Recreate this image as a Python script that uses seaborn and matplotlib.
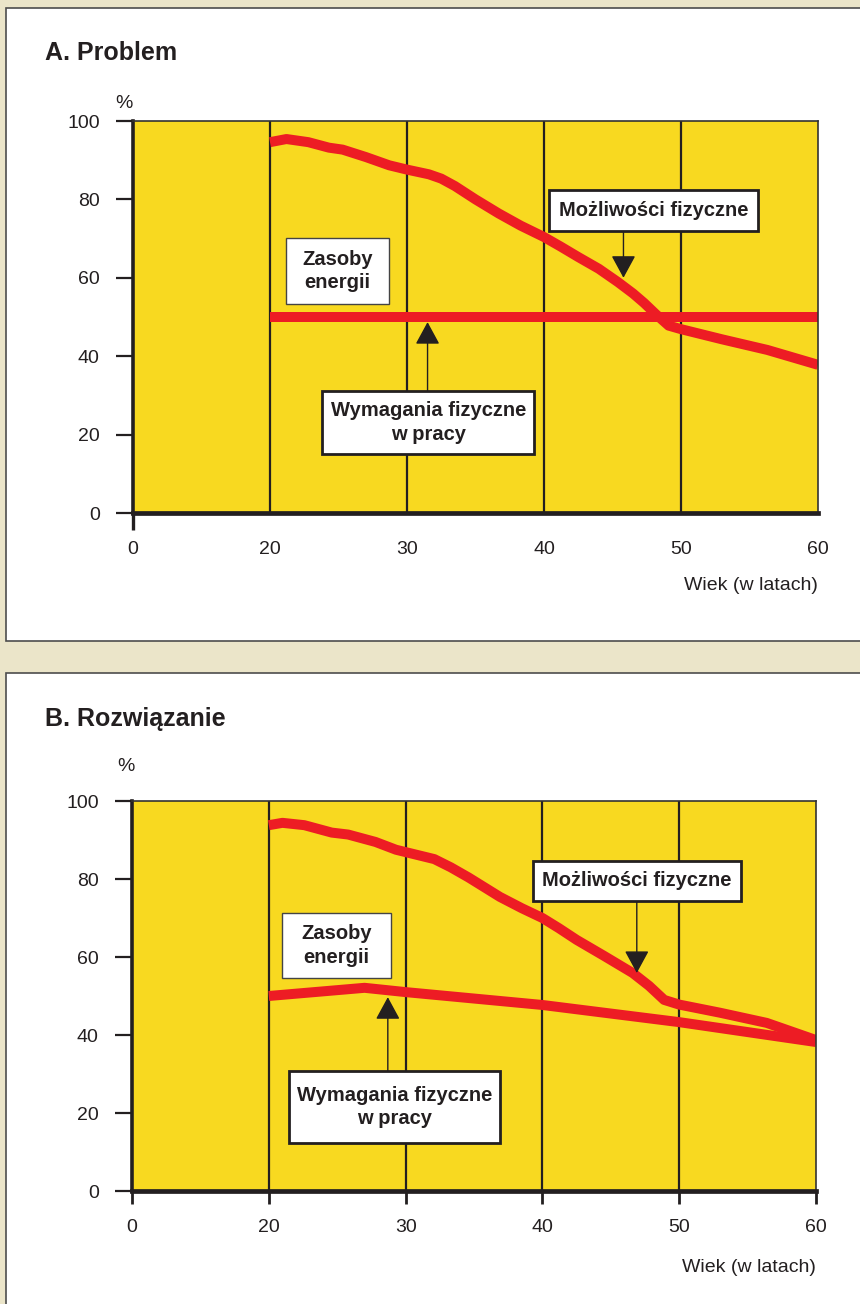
import numpy as np
import pandas as pd
import matplotlib
matplotlib.use("Agg")
import matplotlib.pyplot as plt
import seaborn as sns
from matplotlib.patches import Rectangle
from matplotlib import font_manager

# ---------------- data ----------------
age_ticks = [0, 20, 30, 40, 50, 60]
y_ticks = [0, 20, 40, 60, 80, 100]

# Panel A - Problem
a_cap_age = [20, 21.2, 22.8, 24.3, 25.3, 27.0, 28.7, 30, 31.6, 32.5, 33.5, 35.0, 36.7, 38.3, 40,
             41.2, 42.5, 44.0, 45.4, 46.5, 47.3, 48.2, 49.1, 50, 53.0, 56.3, 60]
a_cap_val = [94.6, 95.4, 94.6, 93.2, 92.7, 90.8, 88.7, 87.6, 86.4, 85.3, 83.4, 80.0, 76.4, 73.3, 70.4,
             68.0, 65.3, 62.3, 58.9, 56.0, 53.6, 50.6, 47.8, 46.9, 44.3, 41.6, 37.8]
a_req_age = [20, 60]
a_req_val = [50, 50]

# Panel B - Rozwiązanie
b_cap_age = [20, 21, 22.6, 24.6, 25.8, 27.8, 29.3, 30, 32.1, 33.3, 34.6, 36.9, 38.5, 40, 41.2,
             42.5, 44.5, 46.6, 47.8, 48.9, 50, 53.0, 56.4, 60]
b_cap_val = [93.8, 94.4, 93.8, 91.9, 91.4, 89.5, 87.5, 86.9, 85.1, 83.0, 80.4, 75.4, 72.5, 70.0, 67.4,
             64.4, 60.3, 55.9, 52.6, 49.0, 47.8, 45.7, 43.1, 38.7]
b_req_age = [20, 27, 30, 40, 50, 60]
b_req_val = [50, 52.1, 51, 47.7, 43.3, 38.2]

titles = ["A. Problem", "B. Rozwiązanie"]
lbl_energy = "Zasoby\nenergii"
lbl_req = "Wymagania fizyczne\nw pracy"
lbl_cap = "Możliwości fizyczne"
x_label = "Wiek (w latach)"
y_unit = "%"

# ---------------- style ----------------
BEIGE = "#EBE5C9"
YELLOW = "#F8D920"
RED = "#ED1C24"
DARK = "#231F20"

sns.set_style("white")


def has_font(name):
    try:
        font_manager.findfont(name, fallback_to_default=False)
        return True
    except Exception:
        return False


BOLD_FAM = "Liberation Sans" if has_font("Liberation Sans") else "DejaVu Sans"
NUM_FAM, NUM_FS = BOLD_FAM, 14
plt.rcParams["font.family"] = [BOLD_FAM, "DejaVu Sans"]

W, H = 860, 1304
fig = plt.figure(figsize=(W / 100, H / 100), dpi=100, facecolor=BEIGE)


def frect(x0, y0, x1, y1):
    return [x0 / W, 1 - y1 / H, (x1 - x0) / W, (y1 - y0) / H]


# white panels
for (x0, y0, x1, y1) in [(6, 8, 880, 641), (6, 673, 880, 1330)]:
    r = frect(x0, y0, x1, y1)
    fig.add_artist(Rectangle((r[0], r[1]), r[2], r[3], transform=fig.transFigure,
                             fc="white", ec="#4d4d4d", lw=1.2, zorder=0))

pos = [0, 1, 2, 3, 4, 5]


def fwd(a):
    return np.interp(a, age_ticks, pos)


def inv(p):
    return np.interp(p, pos, age_ticks)


def box(ax, x0, x1, y0, y1, text, lw, ec):
    ax.add_patch(Rectangle((x0, y0), x1 - x0, y1 - y0, fc="white", ec=ec, lw=lw, zorder=6))
    xc = inv((fwd(x0) + fwd(x1)) / 2)
    ax.text(xc, (y0 + y1) / 2, text, ha="center", va="center", multialignment="center",
            fontsize=14.5, fontweight="bold", color=DARK, zorder=7, linespacing=1.3,
            family=BOLD_FAM)


def arrow(ax, x, y_from, y_to):
    ax.annotate("", xy=(x, y_to), xytext=(x, y_from),
                arrowprops=dict(arrowstyle="-|>,head_length=0.7,head_width=0.38",
                                color=DARK, lw=1.0, shrinkA=0, shrinkB=0, mutation_scale=20),
                zorder=5)


panels = [
    dict(ax_px=(133, 121, 818, 513), cap=(a_cap_age, a_cap_val), req=(a_req_age, a_req_val),
         title_y=53, pct=(124, 104), xl_y=585, xtick_len=12, xtick_pad=8, only_zero=True,
         energy=(21.2, 28.65, 53.3, 70.2), reqbox=(23.8, 39.3, 15.1, 31.1),
         capbox=(40.4, 55.6, 71.9, 82.4), arr_req=(31.5, 31.1, 48.7), arr_cap=(45.8, 71.9, 60.0)),
    dict(ax_px=(132, 801, 816, 1191), cap=(b_cap_age, b_cap_val), req=(b_req_age, b_req_val),
         title_y=719, pct=(126, 766), xl_y=1267, xtick_len=9, xtick_pad=11, only_zero=False,
         energy=(21.0, 28.9, 54.6, 71.3), reqbox=(21.5, 36.9, 12.3, 30.8),
         capbox=(39.3, 54.5, 74.4, 84.6), arr_req=(28.7, 30.8, 49.7), arr_cap=(46.9, 74.4, 55.9)),
]

for i, p in enumerate(panels):
    ax = fig.add_axes(frect(*p["ax_px"]))
    ax.set_facecolor(YELLOW)
    ax.set_xscale("function", functions=(fwd, inv))

    df_cap = pd.DataFrame({"Wiek": p["cap"][0], "Wartość": p["cap"][1]})
    df_req = pd.DataFrame({"Wiek": p["req"][0], "Wartość": p["req"][1]})
    for df in (df_cap, df_req):
        sns.lineplot(data=df, x="Wiek", y="Wartość", ax=ax, color=RED, lw=7.2,
                     solid_capstyle="butt", solid_joinstyle="round", zorder=3, clip_on=True)

    for a in age_ticks[1:-1]:
        ax.axvline(a, color=DARK, lw=1.6, zorder=1)

    ax.set_xlim(0, 60)
    ax.set_ylim(0, 100)
    ax.set_xticks(age_ticks)
    ax.set_xticklabels([str(t) for t in age_ticks])
    ax.set_yticks(y_ticks)
    ax.set_yticklabels([str(t) for t in y_ticks])
    ax.set_xlabel("")
    ax.set_ylabel("")
    ax.grid(False)

    ax.tick_params(axis="y", direction="out", length=12, width=1.6, pad=12,
                   labelsize=NUM_FS, colors=DARK, left=True)
    ax.tick_params(axis="x", direction="out", length=p["xtick_len"], width=2.0,
                   pad=p["xtick_pad"], labelsize=NUM_FS, colors=DARK, bottom=True)
    for lab in ax.get_xticklabels() + ax.get_yticklabels():
        lab.set_family(NUM_FAM)
    if p["only_zero"]:
        for k, t in enumerate(ax.xaxis.get_major_ticks()):
            if k > 0:
                t.tick1line.set_visible(False)
        ax.tick_params(axis="x", width=2.4)

    for s in ["top", "right"]:
        ax.spines[s].set_visible(True)
        ax.spines[s].set_linewidth(1.2)
        ax.spines[s].set_color("#333333")
    ax.spines["left"].set_linewidth(2.6)
    ax.spines["left"].set_color(DARK)
    ax.spines["bottom"].set_linewidth(3.4)
    ax.spines["bottom"].set_color(DARK)
    for s in ax.spines.values():
        s.set_zorder(8)

    box(ax, *p["energy"], lbl_energy, 1.0, "#444444")
    box(ax, *p["reqbox"], lbl_req, 2.0, DARK)
    box(ax, *p["capbox"], lbl_cap, 2.0, DARK)
    arrow(ax, *p["arr_req"])
    arrow(ax, *p["arr_cap"])

    fig.text(45 / W, 1 - p["title_y"] / H, titles[i], fontsize=18, fontweight="bold",
             ha="left", va="center", color=DARK, family=BOLD_FAM)
    fig.text(p["pct"][0] / W, 1 - p["pct"][1] / H, y_unit, fontsize=NUM_FS, ha="center",
             va="center", color=DARK, family=NUM_FAM)
    fig.text(p["ax_px"][2] / W, 1 - p["xl_y"] / H, x_label, fontsize=NUM_FS, ha="right",
             va="center", color=DARK, family=NUM_FAM)

fig.savefig("out.png", dpi=100, facecolor=BEIGE)
